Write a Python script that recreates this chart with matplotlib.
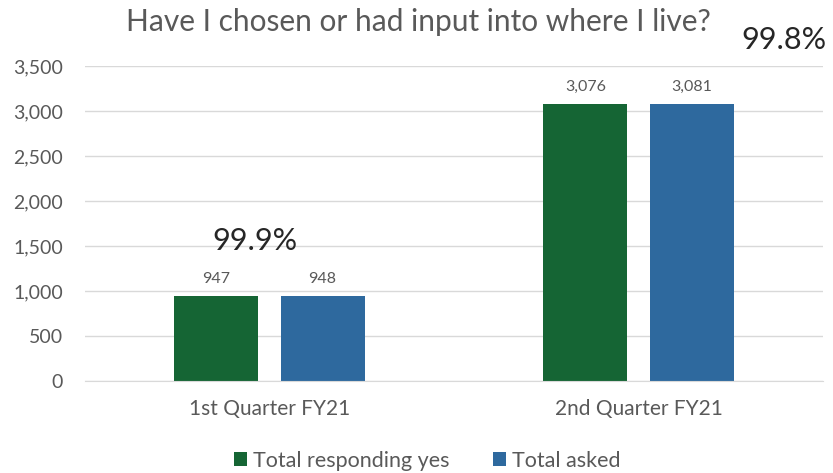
import matplotlib.pyplot as plt
import numpy as np

plt.rcParams['font.family'] = ['Lato', 'DejaVu Sans']

categories = ["1st Quarter FY21", "2nd Quarter FY21"]
responding_yes = [947, 3076]
total_asked = [948, 3081]
percent_labels = ["99.9%", "99.8%"]

green = '#156534'
blue = '#2E699E'
gray = '#595959'

fig = plt.figure(figsize=(8.33, 4.73), dpi=100)
ax = fig.add_axes([0.102, 0.1945, 0.886, 0.666])

x = np.arange(len(categories))
w = 0.228
gap = 0.06
b1 = ax.bar(x - (w + gap) / 2, responding_yes, w, color=green, label='Total responding yes')
b2 = ax.bar(x + (w + gap) / 2, total_asked, w, color=blue, label='Total asked')

for bars in (b1, b2):
    for r in bars:
        ax.text(r.get_x() + r.get_width() / 2, r.get_height() + 110, f"{int(r.get_height()):,}",
                ha='center', va='bottom', fontsize=11.5, color=gray)

ax.set_xlim(-0.5, 1.5)
ax.set_ylim(0, 3500)
ax.set_yticks(np.arange(0, 3501, 500))
ax.yaxis.set_major_formatter(plt.FuncFormatter(lambda v, p: f"{int(v):,}"))
ax.set_xticks(x)
ax.set_xticklabels(categories)
ax.tick_params(axis='both', length=0, colors=gray, labelsize=14)
ax.tick_params(axis='y', pad=16)
ax.tick_params(axis='x', pad=13, labelsize=15)
ax.grid(axis='y', color='#D9D9D9', linewidth=1)
ax.set_axisbelow(True)
for s in ('top', 'right', 'left'):
    ax.spines[s].set_visible(False)
ax.spines['bottom'].set_color('#D9D9D9')

ax.text(x[0] - 0.04, 1560, percent_labels[0], ha='center', va='center', fontsize=22, color='#262626')
fig.text(0.941, 0.915, percent_labels[1], ha='center', va='center', fontsize=22, color='#262626')

fig.text(0.502, 0.953, "Have I chosen or had input into where I live?", ha='center', va='center',
         fontsize=21.5, color=gray)

fig.legend(loc='center', bbox_to_anchor=(0.513, 0.026), ncol=2, frameon=False, fontsize=15.5,
           handlelength=0.6, handleheight=0.6, handletextpad=0.3, columnspacing=2.0,
           labelcolor=gray)

fig.savefig('out.png', dpi=100)
